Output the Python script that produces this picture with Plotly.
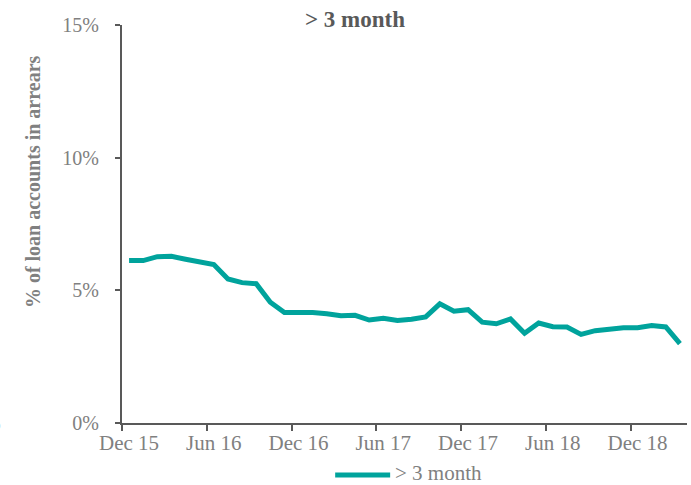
import plotly.graph_objects as go

# Monthly categories Dec 2015 .. Mar 2019
months = ["Dec 15", "Jan 16", "Feb 16", "Mar 16", "Apr 16", "May 16", "Jun 16", "Jul 16", "Aug 16", "Sep 16",
          "Oct 16", "Nov 16", "Dec 16", "Jan 17", "Feb 17", "Mar 17", "Apr 17", "May 17", "Jun 17", "Jul 17",
          "Aug 17", "Sep 17", "Oct 17", "Nov 17", "Dec 17", "Jan 18", "Feb 18", "Mar 18", "Apr 18", "May 18",
          "Jun 18", "Jul 18", "Aug 18", "Sep 18", "Oct 18", "Nov 18", "Dec 18", "Jan 19", "Feb 19", "Mar 19"]
arrears_3m = [6.12, 6.12, 6.27, 6.28, 6.17, 6.09, 5.97, 5.43, 5.29, 5.25,
              4.55, 4.16, 4.18, 4.16, 4.12, 4.04, 4.06, 3.88, 3.95, 3.86,
              3.91, 4.00, 4.49, 4.21, 4.27, 3.80, 3.74, 3.92, 3.38, 3.77,
              3.63, 3.62, 3.34, 3.48, 3.53, 3.59, 3.59, 3.67, 3.62, 2.99]
series_name = "> 3 month"
label_months = ["Dec 15", "Jun 16", "Dec 16", "Jun 17", "Dec 17", "Jun 18", "Dec 18"]
y_ticks = [0, 5, 10, 15]
y_ticktext = ["0%", "5%", "10%", "15%"]

idx = list(range(len(months)))
label_idx = [months.index(m) for m in label_months]

SERIF = "Liberation Serif, Times New Roman, serif"
GRAY = "#808080"
AXIS = "#595959"
TEAL = "#00A39C"

fig = go.Figure()
fig.add_trace(go.Scatter(
    x=idx, y=arrears_3m, mode="lines", name=series_name,
    line=dict(color=TEAL, width=5), hoverinfo="skip", showlegend=False,
))

# legend drawn as a line sample + label below the plot
LEG_Y = -0.1307
fig.add_shape(type="line", xref="paper", yref="paper", x0=0.3773, x1=0.4746,
              y0=LEG_Y, y1=LEG_Y, line=dict(color=TEAL, width=5))

fig.update_layout(
    width=691, height=485,
    margin=dict(l=122, r=4, t=25, b=62, autoexpand=False),
    paper_bgcolor="white", plot_bgcolor="white",
    font=dict(family=SERIF, size=21, color=GRAY),
    showlegend=False,
    xaxis=dict(
        range=[-0.5, len(months) - 0.5],
        tickmode="array", tickvals=label_idx, ticktext=label_months,
        ticks="", showgrid=False, zeroline=False,
        showline=True, linecolor=AXIS, linewidth=2,
        tickfont=dict(family=SERIF, size=21, color=GRAY),
        minor=dict(tickmode="linear", tick0=-0.5, dtick=6, ticks="outside",
                   ticklen=6, tickwidth=2, tickcolor=AXIS, showgrid=False),
    ),
    yaxis=dict(
        range=[0, 15], tickmode="array", tickvals=y_ticks, ticktext=y_ticktext,
        ticks="outside", ticklen=5, tickwidth=2, tickcolor=AXIS,
        showgrid=False, zeroline=False,
        showline=True, linecolor=AXIS, linewidth=2,
        tickfont=dict(family=SERIF, size=20, color=GRAY),
        ticklabelstandoff=12,
    ),
    annotations=[
        dict(text="<b>" + series_name + "</b>", xref="paper", yref="paper", x=0.413, y=1.015,
             xanchor="center", yanchor="middle", showarrow=False,
             font=dict(family=SERIF, size=23, color=AXIS)),
        dict(text="<b>% of loan accounts in arrears</b>", xref="paper", yref="paper",
             x=-0.157, y=0.606, xanchor="center", yanchor="middle", textangle=-90,
             showarrow=False, font=dict(family=SERIF, size=20, color=GRAY)),
        dict(text=series_name, xref="paper", yref="paper", x=0.4799, y=-0.1256,
             xanchor="left", yanchor="middle", showarrow=False,
             font=dict(family=SERIF, size=21, color=GRAY)),
        dict(text="%", xref="paper", yref="paper", x=-0.210, y=0.0, xanchor="right",
             yanchor="middle", showarrow=False, font=dict(family=SERIF, size=20, color=GRAY)),
    ],
)

fig.write_html("out.html")
